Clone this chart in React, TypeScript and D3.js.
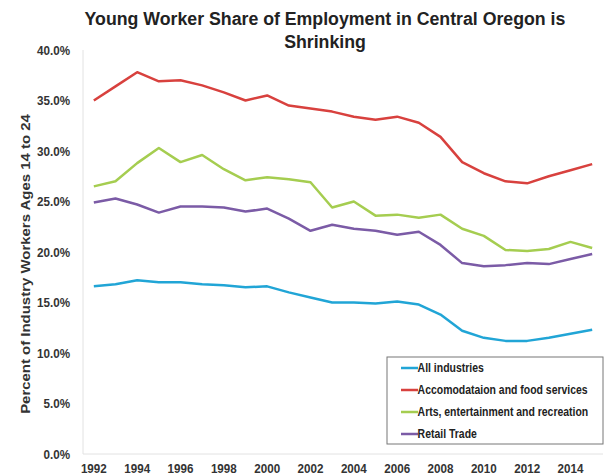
import React, { useEffect } from "react";
import * as d3 from "d3";

const years = [1992, 1993, 1994, 1995, 1996, 1997, 1998, 1999, 2000, 2001, 2002, 2003,
  2004, 2005, 2006, 2007, 2008, 2009, 2010, 2011, 2012, 2013, 2014, 2015];

const allIndustries = [16.6, 16.8, 17.2, 17.0, 17.0, 16.8, 16.7, 16.5, 16.6, 16.0, 15.5, 15.0,
  15.0, 14.9, 15.1, 14.8, 13.8, 12.2, 11.5, 11.2, 11.2, 11.5, 11.9, 12.3];
const accommodation = [35.0, 36.4, 37.8, 36.9, 37.0, 36.5, 35.8, 35.0, 35.5, 34.5, 34.2, 33.9,
  33.4, 33.1, 33.4, 32.8, 31.4, 28.9, 27.8, 27.0, 26.8, 27.5, 28.1, 28.7];
const arts = [26.5, 27.0, 28.8, 30.3, 28.9, 29.6, 28.2, 27.1, 27.4, 27.2, 26.9, 24.4,
  25.0, 23.6, 23.7, 23.4, 23.7, 22.3, 21.6, 20.2, 20.1, 20.3, 21.0, 20.4];
const retail = [24.9, 25.3, 24.7, 23.9, 24.5, 24.5, 24.4, 24.0, 24.3, 23.3, 22.1, 22.7,
  22.3, 22.1, 21.7, 22.0, 20.7, 18.9, 18.6, 18.7, 18.9, 18.8, 19.3, 19.8];

const seriesNames = ["All industries", "Accomodataion and food services",
  "Arts, entertainment and recreation", "Retail Trade"];
const seriesColors = ["#21a5d6", "#d8413e", "#a5cd50", "#7b5ba6"];
const yTicks = [0, 5, 10, 15, 20, 25, 30, 35, 40];
const xTickYears = [1992, 1994, 1996, 1998, 2000, 2002, 2004, 2006, 2008, 2010, 2012, 2014];

const W = 608, H = 476;
const font = "'Liberation Sans', Arial, sans-serif";

export default function App() {
  useEffect(() => {
    document.body.style.margin = "0";
  }, []);

  const x = d3.scalePoint<number>().domain(years).range([83, 603]).padding(0.5);
  const y = d3.scaleLinear().domain([0, 40]).range([454, 50]);
  const all = [allIndustries, accommodation, arts, retail];
  const line = d3.line<number>()
    .x((_, i) => x(years[i]) as number)
    .y((d) => y(d));

  const lg = { x: 387, y: 357, w: 216, h: 87, row: 22 };

  return (
    <svg width={W} height={H} style={{ display: "block", background: "#fff" }} fontFamily={font}>
      <g transform="translate(325,25) scale(0.985,1.05)">
        <text textAnchor="middle" fontSize={18} fontWeight="bold" fill="#222">
          Young Worker Share of Employment in Central Oregon is
        </text>
      </g>
      <g transform="translate(325,48) scale(0.985,1.05)">
        <text textAnchor="middle" fontSize={18} fontWeight="bold" fill="#222">
          Shrinking
        </text>
      </g>

      <line x1={83} x2={83} y1={50} y2={454} stroke="#e2e2e2" />
      <line x1={83} x2={603} y1={454} y2={454} stroke="#e2e2e2" />

      {yTicks.map((t) => (
        <g key={t} transform={`translate(70,${y(t)}) scale(0.97,1.1)`}>
          <text dy="0.35em" textAnchor="end" fontSize={12} fontWeight="bold" fill="#333">
            {d3.format(".1f")(t) + "%"}
          </text>
        </g>
      ))}
      {xTickYears.map((yr) => (
        <g key={yr} transform={`translate(${x(yr)},468) scale(0.97,1.1)`}>
          <text dy="0.35em" textAnchor="middle" fontSize={12} fontWeight="bold" fill="#333">
            {yr}
          </text>
        </g>
      ))}

      <text transform="translate(25,264) rotate(-90) scale(1.15,1)" dy="0.35em" textAnchor="middle" fontSize={13} fontWeight="bold" fill="#333">
        Percent of Industry Workers Ages 14 to 24
      </text>

      {all.map((s, i) => (
        <path key={i} d={line(s) || ""} fill="none" stroke={seriesColors[i]} strokeWidth={2.5} strokeLinejoin="round" />
      ))}

      <rect x={lg.x} y={lg.y} width={lg.w} height={lg.h} fill="#fff" stroke="#777" strokeWidth={1} />
      {seriesNames.map((n, i) => (
        <g key={n} transform={`translate(${lg.x + 14},${lg.y + 11 + i * lg.row})`}>
          <line x1={0} x2={17} y1={0} y2={0} stroke={seriesColors[i]} strokeWidth={2.5} />
          <text x={17.5} y={0} dy="0.35em" fontSize={11} fontWeight="bold" fill="#222"
            transform="scale(0.95,1.1)">{n}</text>
        </g>
      ))}
    </svg>
  );
}
